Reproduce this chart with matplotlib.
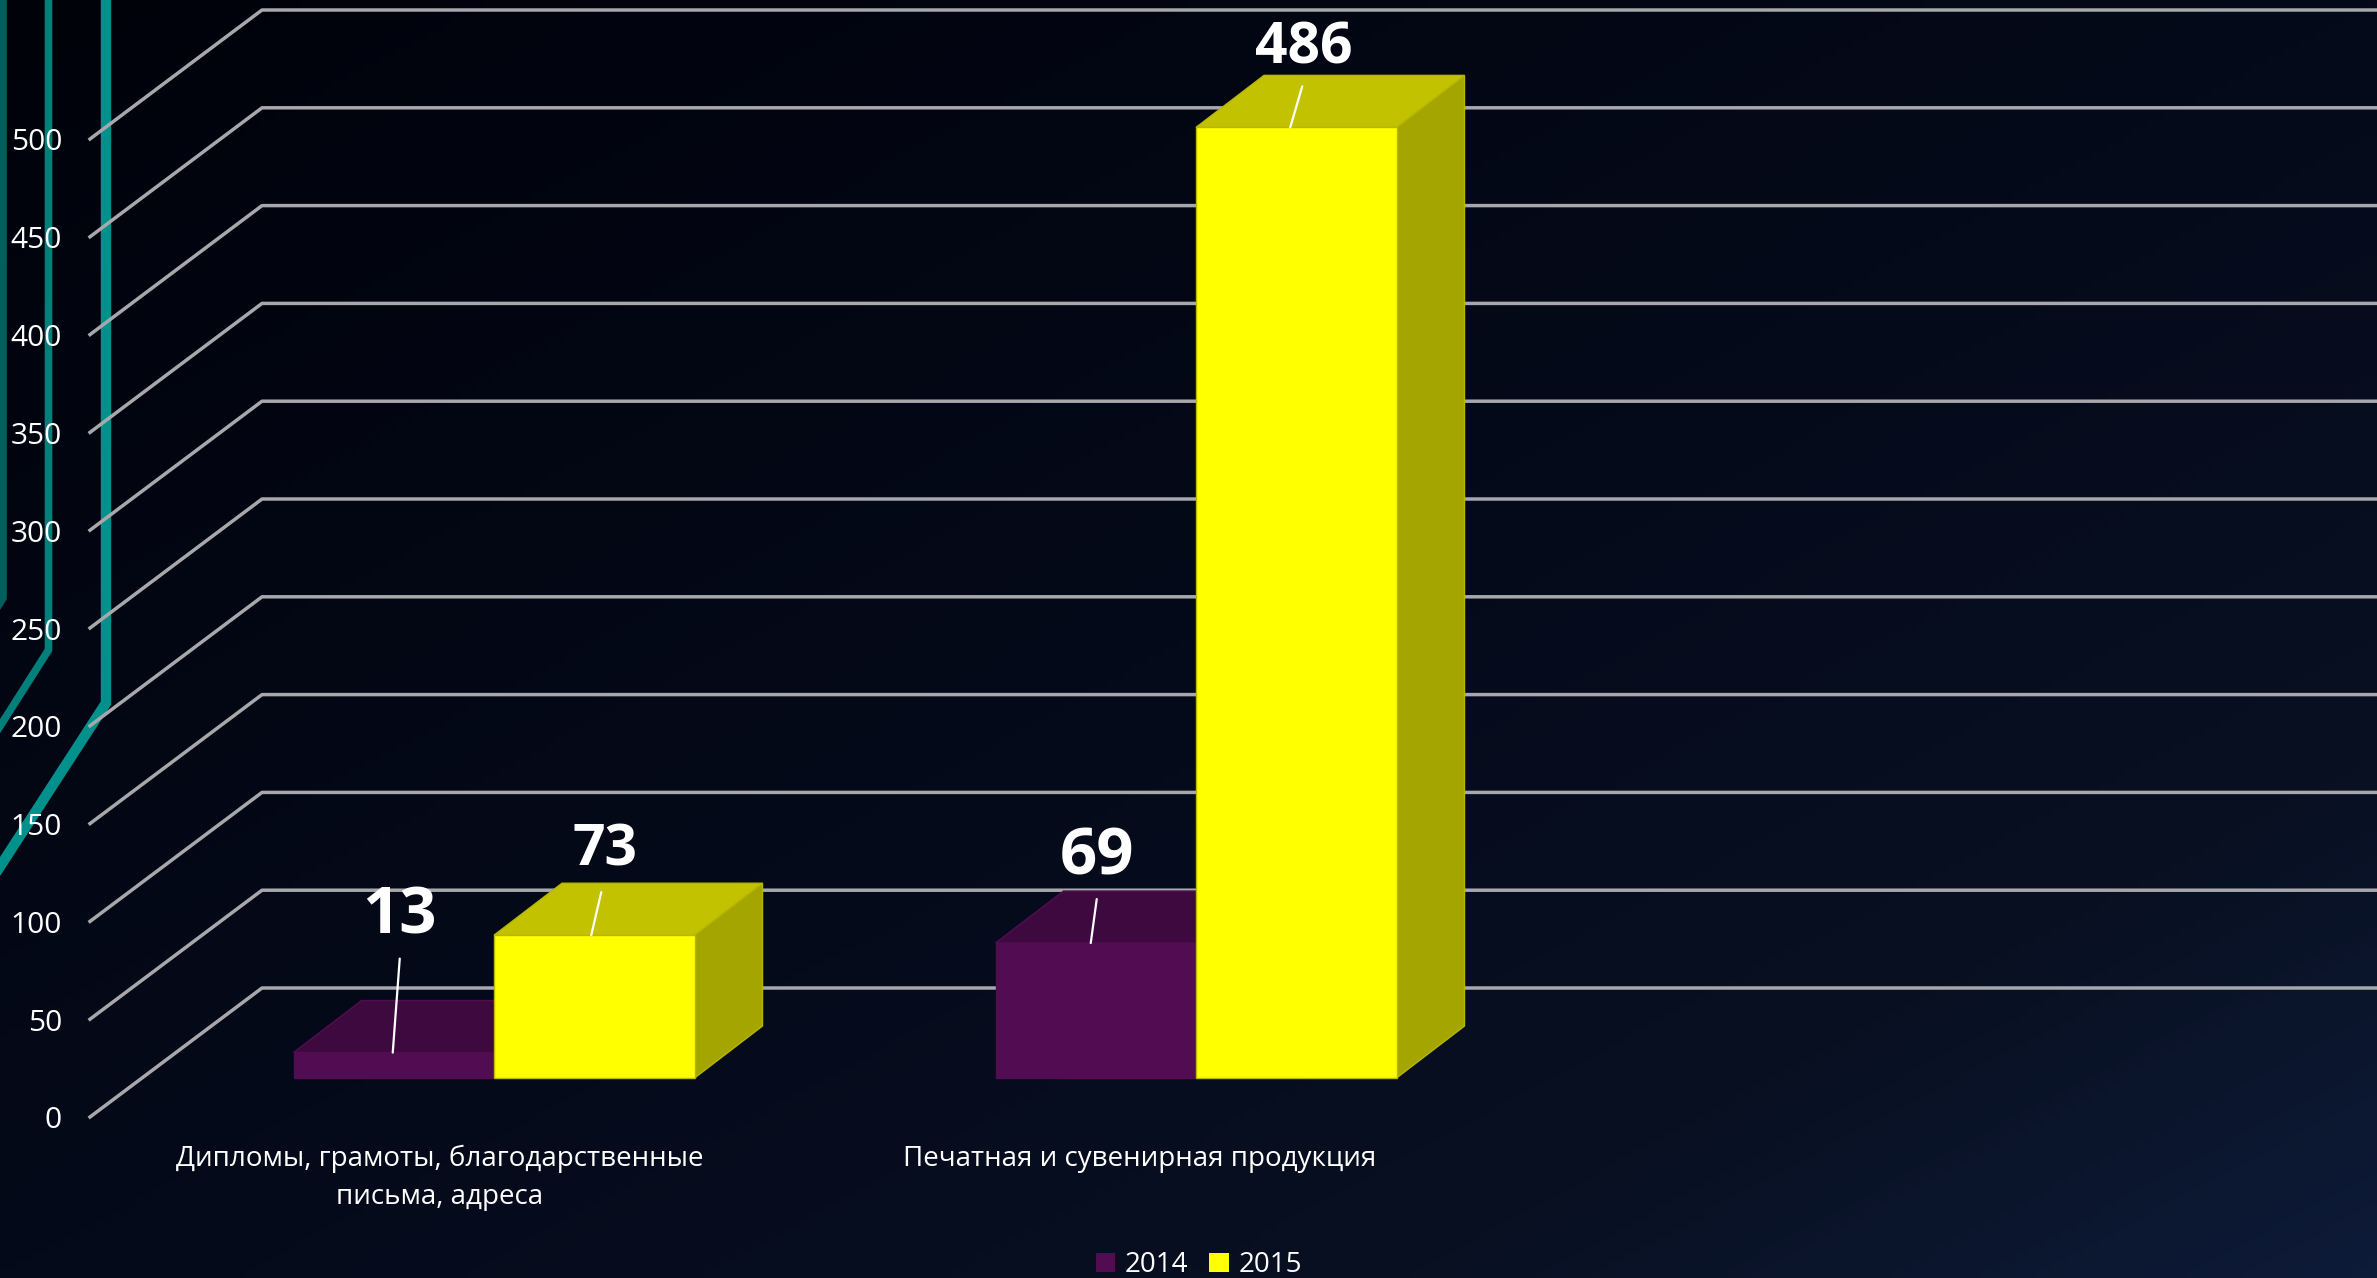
import numpy as np
import matplotlib.pyplot as plt
from matplotlib.patches import Polygon, Patch
from matplotlib.colors import LinearSegmentedColormap

categories = ['Дипломы, грамоты, благодарственные\nписьма, адреса', 'Печатная и сувенирная продукция']
series_names = ['2014', '2015']
values_2014 = [13, 69]
values_2015 = [73, 486]
y_ticks = [0, 50, 100, 150, 200, 250, 300, 350, 400, 450, 500]

W, H = 2377, 1278
plt.rcParams['font.family'] = ['Open Sans', 'DejaVu Sans']

# Масштаб: пикселей на единицу значения и на одну категорию
px_per_value = 1.956
px_per_cat = 702
floor_px = 1078
cat0_px = 494


def x_units(px):
    return px / px_per_cat


def y_units(px):
    return px / px_per_value


fig = plt.figure(figsize=(W / 100, H / 100), dpi=100)

# Фон с диагональным градиентом
bg = fig.add_axes([0, 0, 1, 1], zorder=0)
gx, gy = np.meshgrid(np.linspace(0, 1, 300), np.linspace(0, 1, 160))
grad = np.clip((gx * 0.5 + gy * 0.5), 0, 1)
cmap = LinearSegmentedColormap.from_list('bg', [(0, '#00020a'), (0.5, '#050a1a'), (0.8, '#081022'), (1, '#0e1b38')])
bg.imshow(grad, cmap=cmap, aspect='auto', extent=[0, W, H, 0], vmin=0, vmax=1)

# Декоративные бирюзовые линии
bg.plot([3, 3, -20], [-5, 598, 635], color='#005f5c', lw=5.5, solid_joinstyle='miter')
bg.plot([48.5, 48.5, -10], [-5, 650, 742], color='#007f7b', lw=5.5, solid_joinstyle='miter')
bg.plot([106, 106, -10], [-5, 703, 882], color='#00918c', lw=7.5, solid_joinstyle='miter')
bg.set_xlim(0, W)
bg.set_ylim(H, 0)
bg.axis('off')

# Основная область: значения и категории
ax = fig.add_axes([0, 0, 1, 1], zorder=1)
ax.patch.set_alpha(0)
ax.set_xlim(x_units(-cat0_px), x_units(W - cat0_px))
ax.set_ylim(y_units(floor_px - H), y_units(floor_px))
ax.axis('off')

# Стенка и линии сетки
wall_x0, wall_x1 = x_units(90 - cat0_px), x_units(262 - cat0_px)
wall_y0, wall_y1 = y_units(floor_px - 1117), y_units(floor_px - 988)
for t in y_ticks:
    ax.plot([wall_x0, wall_x1, ax.get_xlim()[1]],
            [t + wall_y0, t + wall_y1, t + wall_y1],
            color='#a8a8ac', lw=2.5, solid_joinstyle='round', zorder=2)
    ax.annotate(str(t), (wall_x0, t + wall_y0), xytext=(-28, -4), textcoords='offset pixels',
                ha='right', va='center', color='white', fontsize=21.5, zorder=6)

bar_w = x_units(200.5)
depth_x = x_units(68)
depth_y = y_units(52)


def draw_bars(lefts, vals, front, top, side, edge):
    ax.bar(lefts, vals, width=bar_w, align='edge', color=front, edgecolor=edge, lw=1, zorder=4)
    for x, v in zip(lefts, vals):
        r = x + bar_w
        ax.add_patch(Polygon([(x, v), (r, v), (r + depth_x, v + depth_y), (x + depth_x, v + depth_y)],
                             closed=True, facecolor=top, edgecolor=edge, lw=1, zorder=3))
        ax.add_patch(Polygon([(r, 0), (r + depth_x, depth_y), (r + depth_x, v + depth_y), (r, v)],
                             closed=True, facecolor=side, edgecolor=edge, lw=1, zorder=3))


pos = np.arange(len(categories))
draw_bars(pos - bar_w, values_2014, '#520d52', '#3e093e', '#330733', '#520d52')
draw_bars(pos, values_2015, '#ffff00', '#c2c200', '#a5a500', '#b8b800')

# Подписи значений с выносками (смещения в пикселях по сериям и категориям)
label_sizes = [47, 41]
label_offsets = [[(6, 136), (1, 85)], [(11, 85), (8, 79)]]
leader_tips = [[(7, 94), (6, 44)], [(10, 43), (12, 41)]]
leader_shift = [[-1, -5], [-3, -6]]
centers = [pos - bar_w / 2, pos + bar_w / 2]
for i, vals in enumerate([values_2014, values_2015]):
    for j, v in enumerate(vals):
        x = centers[i][j]
        sx = leader_shift[i][j]
        tip = leader_tips[i][j]
        ax.annotate('', xy=(x + x_units(tip[0] + sx), v + y_units(tip[1])), xytext=(x + x_units(sx), v),
                    arrowprops=dict(arrowstyle='-', color='white', lw=1.6, shrinkA=0, shrinkB=0), zorder=7)
        ax.annotate(str(v), (x, v), xytext=label_offsets[i][j], textcoords='offset pixels',
                    ha='center', va='center', color='white', fontsize=label_sizes[i],
                    fontweight='bold', zorder=7)

# Подписи категорий
ax.annotate(categories[0], (pos[0], 0), xytext=(-54, -100), textcoords='offset pixels', ha='center', va='center',
            color='white', fontsize=20, linespacing=1.5, zorder=6)
ax.annotate(categories[1], (pos[1], 0), xytext=(-56, -81), textcoords='offset pixels', ha='center', va='center',
            color='white', fontsize=20, zorder=6)

# Легенда
handles = [Patch(facecolor='#520d52', label=series_names[0]), Patch(facecolor='#ffff00', label=series_names[1])]
fig.legend(handles=handles, loc='center', bbox_to_anchor=(1199 / W, 1 - 1265 / H), ncol=2, frameon=False,
           fontsize=20, labelcolor='white', handlelength=0.7, handleheight=0.7, handletextpad=0.35,
           columnspacing=0.75, borderpad=0)

fig.savefig('out.png', dpi=100)
